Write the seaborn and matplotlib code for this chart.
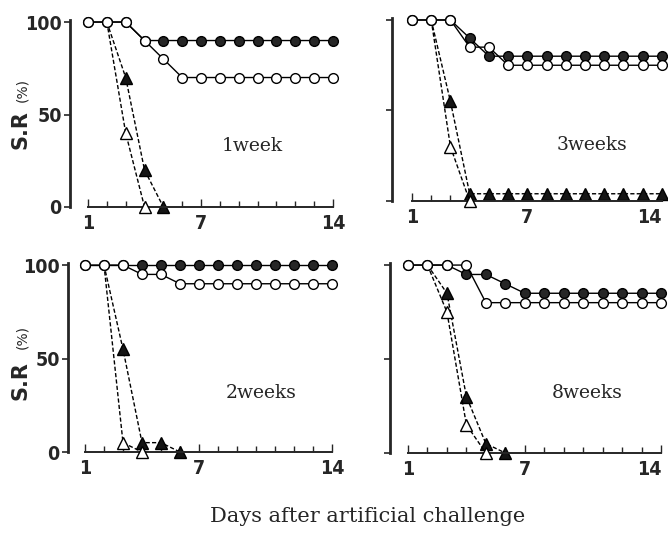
import seaborn as sns
import matplotlib.pyplot as plt
from matplotlib.ticker import FixedLocator

days = list(range(1, 15))

# 1 week
w1_circle_filled = [100, 100, 100, 90, 90, 90, 90, 90, 90, 90, 90, 90, 90, 90]
w1_circle_open = [100, 100, 100, 90, 80, 70, 70, 70, 70, 70, 70, 70, 70, 70]
w1_tri_filled = [100, 100, 70, 20, 0]
w1_tri_open = [100, 100, 40, 0]

# 3 weeks
w3_circle_filled = [100, 100, 100, 90, 80, 80, 80, 80, 80, 80, 80, 80, 80, 80]
w3_circle_open = [100, 100, 100, 85, 85, 75, 75, 75, 75, 75, 75, 75, 75, 75]
w3_tri_filled = [100, 100, 55, 4, 4, 4, 4, 4, 4, 4, 4, 4, 4, 4]
w3_tri_open = [100, 100, 30, 0]

# 2 weeks
w2_circle_filled = [100, 100, 100, 100, 100, 100, 100, 100, 100, 100, 100, 100, 100, 100]
w2_circle_open = [100, 100, 100, 95, 95, 90, 90, 90, 90, 90, 90, 90, 90, 90]
w2_tri_filled = [100, 100, 55, 5, 5, 0]
w2_tri_open = [100, 100, 5, 0]

# 8 weeks
w8_circle_filled = [100, 100, 100, 95, 95, 90, 85, 85, 85, 85, 85, 85, 85, 85]
w8_circle_open = [100, 100, 100, 100, 80, 80, 80, 80, 80, 80, 80, 80, 80, 80]
w8_tri_filled = [100, 100, 85, 30, 5, 0]
w8_tri_open = [100, 100, 75, 15, 0]

panel_labels = ['1week', '3weeks', '2weeks', '8weeks']
x_ticks = [1, 7, 14]
y_ticks = [0, 50, 100]

sns.set_style('ticks')
plt.rcParams['font.family'] = ['DejaVu Sans']

W, H = 668, 547
fig = plt.figure(figsize=(W / 100, H / 100), dpi=100)

# pixel boxes of the four panels
layout = [
    dict(box=(70, 20, 336, 207), xlim=(0.045, 14.16), text=(252, 146), ylab=True),
    dict(box=(392, 18, 665, 201), xlim=(-0.04, 14.16), text=(592, 145), ylab=False),
    dict(box=(68, 263, 335, 452), xlim=(0.105, 14.16), text=(261, 393), ylab=True),
    dict(box=(390, 263, 664, 453), xlim=(0.075, 14.15), text=(587, 393), ylab=False),
]
series = [
    (w1_circle_filled, w1_circle_open, w1_tri_filled, w1_tri_open),
    (w3_circle_filled, w3_circle_open, w3_tri_filled, w3_tri_open),
    (w2_circle_filled, w2_circle_open, w2_tri_filled, w2_tri_open),
    (w8_circle_filled, w8_circle_open, w8_tri_filled, w8_tri_open),
]

tick_font = dict(family='DejaVu Sans', fontstretch='condensed',
                 fontweight='bold', fontsize=14)
dash = (0, (3, 1.6))

for lay, (cf, co, tf, to), label in zip(layout, series, panel_labels):
    x0, y0, x1, y1 = lay['box']
    ax = fig.add_axes([x0 / W, 1 - y1 / H, (x1 - x0) / W, (y1 - y0) / H])

    # triangles (dashed) start from the day-2 circle, no marker there
    sns.lineplot(x=days[1:len(tf)], y=tf[1:], ax=ax, color='black', lw=1,
                 linestyle=dash, marker='^', markersize=8,
                 markevery=list(range(1, len(tf) - 1)),
                 markerfacecolor='#151515', markeredgecolor='black',
                 markeredgewidth=1, clip_on=False, zorder=2)
    sns.lineplot(x=days[1:len(to)], y=to[1:], ax=ax, color='black', lw=1,
                 linestyle=dash, marker='^', markersize=8,
                 markevery=list(range(1, len(to) - 1)),
                 markerfacecolor='white', markeredgecolor='black',
                 markeredgewidth=1, clip_on=False, zorder=3)
    # circles (solid)
    sns.lineplot(x=days, y=cf, ax=ax, color='black', lw=1,
                 marker='o', markersize=7, markerfacecolor='#262626',
                 markeredgecolor='black', markeredgewidth=1, clip_on=False, zorder=4)
    sns.lineplot(x=days, y=co, ax=ax, color='black', lw=1,
                 marker='o', markersize=7, markerfacecolor='white',
                 markeredgecolor='black', markeredgewidth=1, clip_on=False, zorder=5)

    ax.set_xlim(*lay['xlim'])
    ax.set_ylim(0, 101.1)
    ax.set_xlabel('')
    ax.set_ylabel('')

    sns.despine(ax=ax)
    ax.spines['left'].set_linewidth(2)
    ax.spines['bottom'].set_linewidth(1.4)
    ax.spines['bottom'].set_bounds(1, 14)

    ax.xaxis.set_major_locator(FixedLocator(x_ticks))
    ax.xaxis.set_minor_locator(FixedLocator(days))
    ax.tick_params(axis='x', which='both', direction='in', width=1)
    ax.tick_params(axis='x', which='major', length=6, pad=5)
    ax.tick_params(axis='x', which='minor', length=4)
    ax.set_xticks(x_ticks)
    xlabels = ax.set_xticklabels([str(t) for t in x_ticks], **tick_font)
    if not lay['ylab']:
        # last label sits against the figure edge
        xlabels[-1].set_horizontalalignment('right')

    ax.set_yticks(y_ticks)
    ax.tick_params(axis='y', direction='out', length=4, width=1.2, pad=2)
    if lay['ylab']:
        ax.set_yticklabels([str(t) for t in y_ticks], **tick_font)
    else:
        ax.set_yticklabels([])

    tx, ty = lay['text']
    fig.text(tx / W, 1 - ty / H, label, family='DejaVu Serif', fontsize=13.5,
             ha='center', va='center')

# y-axis labels on left column
for cy_sr, cy_pct in [(130, 90), (381, 337)]:
    fig.text(21 / W, 1 - cy_sr / H, 'S.R', rotation=90, fontsize=15,
             fontweight='bold', ha='center', va='center')
    fig.text(22 / W, 1 - cy_pct / H, '(%)', rotation=90, fontsize=10,
             ha='center', va='center')

fig.text(368 / W, 1 - 517 / H, 'Days after artificial challenge',
         family='DejaVu Serif', fontsize=15, ha='center', va='center')

fig.savefig('out.png', dpi=100)
